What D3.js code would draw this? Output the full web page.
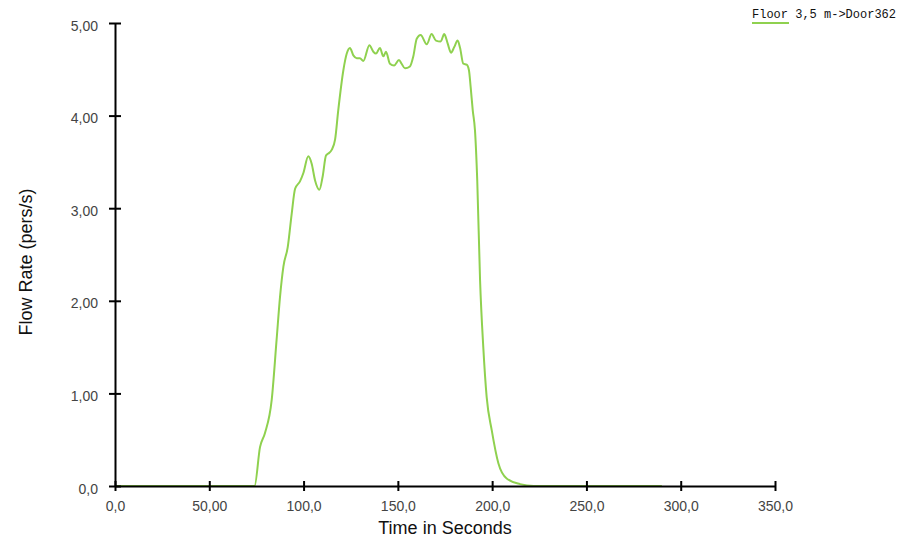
<!DOCTYPE html>
<html>
<head>
<meta charset="utf-8">
<script src="https://cdn.jsdelivr.net/npm/d3@7"></script>
<style>
  body { margin: 0; background: #fff; }
  .tick text { font-family: Arial, "Liberation Sans", sans-serif; font-size: 14px; fill: #444; }
  .axis-title { font-family: Arial, "Liberation Sans", sans-serif; font-size: 18px; fill: #111; }
  .legend-text { font-family: "Courier New", "Liberation Mono", monospace; font-size: 12px; fill: #111; }
</style>
</head>
<body>
<div class="chart"></div>
<script>
// data
const seriesName = 'Floor 3,5 m->Door362';
const times = [0, 74, 76.9, 79.5, 83.1, 85.7, 87.5, 89.3, 91.6, 93.7, 95.5, 98.1, 99.9, 102.5, 104.3,
  106.1, 108.4, 110.1, 111.9, 113.1, 114.9, 116.7, 118.4, 121.1, 122.9, 124.6, 126.4, 128.2, 129.9,
  131.7, 134.9, 137.0, 138.4, 140.5, 142.3, 143.7, 145.8, 148.0, 150.6, 152.0, 153.8, 156.4, 158.2,
  160.0, 162.1, 165.3, 167.9, 170.2, 172.7, 174.6, 176.4, 178.2, 179.9, 181.7, 183.0, 184.7, 186.5,
  187.7, 188.6, 189.7, 190.9, 192.1, 193.6, 195.3, 197.1, 199.8, 203.3, 207.7, 214.8, 222, 290];
const flow = [0, 0, 0.42, 0.57, 0.93, 1.58, 2.04, 2.37, 2.58, 2.94, 3.21, 3.29, 3.38, 3.56, 3.48,
  3.30, 3.20, 3.34, 3.57, 3.59, 3.63, 3.74, 4.06, 4.49, 4.67, 4.73, 4.65, 4.62, 4.62,
  4.59, 4.76, 4.69, 4.67, 4.73, 4.64, 4.69, 4.56, 4.54, 4.60, 4.56, 4.51, 4.53, 4.64,
  4.83, 4.87, 4.77, 4.88, 4.81, 4.80, 4.88, 4.78, 4.68, 4.74, 4.81, 4.73, 4.56, 4.55,
  4.49, 4.31, 4.06, 3.84, 3.30, 2.22, 1.50, 0.96, 0.60, 0.245, 0.08, 0.02, 0, 0];

const xTicks = [0, 50, 100, 150, 200, 250, 300, 350];
const xTickLabels = ['0,0', '50,00', '100,0', '150,0', '200,0', '250,0', '300,0', '350,0'];
const yTicks = [0, 1, 2, 3, 4, 5];
const yTickLabels = ['0,0', '1,00', '2,00', '3,00', '4,00', '5,00'];

const margin = {top:23, left:115, bottom:51, right:123};
const width = 898 - margin.left - margin.right;
const height = 537 - margin.top - margin.bottom;

const root = d3.select('.chart')
    .append('svg')
    .attr('width', 898)
    .attr('height', 537);

const svg = root.append('g')
    .attr('transform', 'translate('+margin.left+','+margin.top+')');

const xScale = d3.scaleLinear()
    .domain([0, 350])
    .range([0, width]);

const yScale = d3.scaleLinear()
    .domain([0, 5])
    .range([height, 0]);

const data = times.map((t, i) => ({t: t, v: flow[i]}));

const line = d3.line()
    .x(d => xScale(d.t))
    .y(d => yScale(d.v))
    .curve(d3.curveMonotoneX);

svg.append('path')
    .datum(data)
    .attr('fill', 'none')
    .attr('stroke', '#8fd14f')
    .attr('stroke-width', 2)
    .attr('d', line);

const xAxis = d3.axisBottom(xScale)
    .tickValues(xTicks)
    .tickFormat((d, i) => xTickLabels[i])
    .tickSizeOuter(0)
    .tickPadding(9);

const yAxis = d3.axisLeft(yScale)
    .tickValues(yTicks)
    .tickFormat((d, i) => yTickLabels[i])
    .tickSizeOuter(0)
    .tickPadding(11);

const gx = svg.append('g')
    .attr('class', 'x-axis')
    .attr('transform', `translate(0, ${height})`)
    .call(xAxis);

const gy = svg.append('g')
    .attr('class', 'y-axis')
    .call(yAxis);

// ticks cross the axis line
gx.selectAll('.tick line').attr('y1', -5).attr('y2', 5).attr('stroke', '#000').attr('stroke-width', 2);
gy.selectAll('.tick line').attr('x1', -6).attr('x2', 6).attr('stroke', '#000').attr('stroke-width', 2);
gy.selectAll('.tick text').attr('dy', '0.5em');
gx.select('.domain').attr('stroke', '#000').attr('stroke-width', 2);
gy.select('.domain').attr('stroke', '#000').attr('stroke-width', 2);

svg.append('text')
    .attr('class', 'axis-title')
    .attr('x', 330)
    .attr('y', height + 48)
    .attr('text-anchor', 'middle')
    .text('Time in Seconds');

svg.append('text')
    .attr('class', 'axis-title')
    .attr('transform', 'translate(-83,' + (262 - margin.top) + ') rotate(-90)')
    .attr('text-anchor', 'middle')
    .text('Flow Rate (pers/s)');

// legend
root.append('line')
    .attr('x1', 752).attr('x2', 789)
    .attr('y1', 23).attr('y2', 23)
    .attr('stroke', '#8fd14f')
    .attr('stroke-width', 2);

root.append('text')
    .attr('class', 'legend-text')
    .attr('x', 752)
    .attr('y', 18)
    .text(seriesName);
</script>
</body>
</html>
